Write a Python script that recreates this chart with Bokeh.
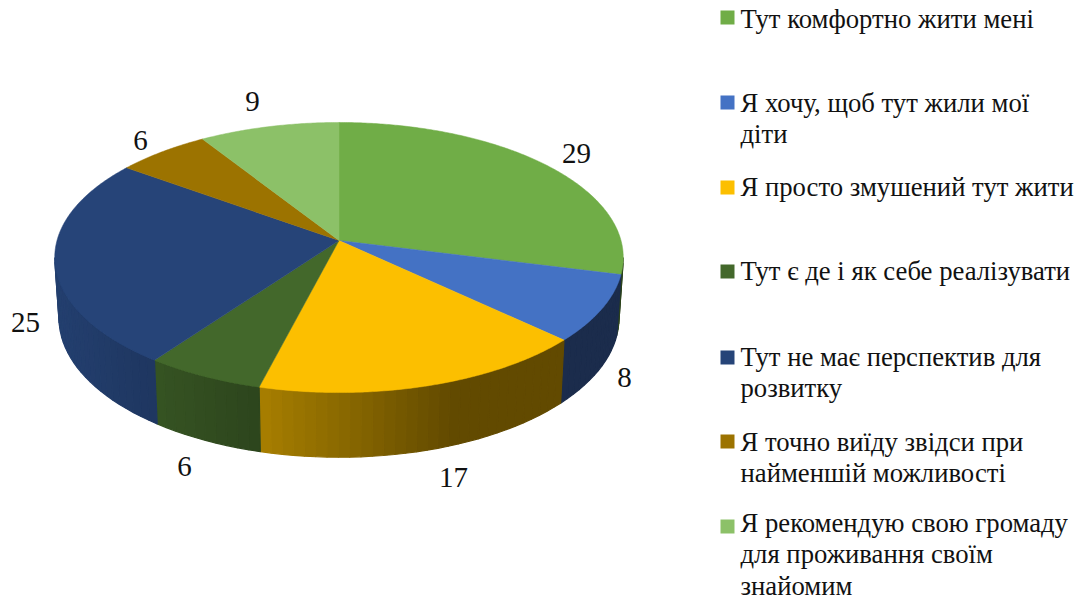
import numpy as np
from bokeh.plotting import figure
from bokeh.models import Range1d
from bokeh.core.properties import value
from bokeh.embed import file_html
from bokeh.resources import INLINE

categories = [
    ["Тут комфортно жити мені"],
    ["Я хочу, щоб тут жили мої", "діти"],
    ["Я просто змушений тут жити"],
    ["Тут є де і як себе реалізувати"],
    ["Тут не має перспектив для", "розвитку"],
    ["Я точно виїду звідси при", "найменшій можливості"],
    ["Я рекомендую свою громаду", "для проживання своїм", "знайомим"],
]
values = [29, 8, 17, 6, 25, 6, 9]
colors = ["#70ad47", "#4472c4", "#fcbf00", "#43682b", "#264478", "#9c7300", "#8cc168"]

# layout (page pixels)
FONT = value("Liberation Serif")
label_pos = [(576, 153), (624, 377), (453, 477), (184, 466), (25, 322), (140, 140), (252, 101)]
legend_top = [10, 95, 180, 264, 350, 434, 519]
legend_base = [18, 102, 186, 270, 356, 441, 522]
LINE = 31.5
CX, CY, K, A, B = 338.5, 240, 0.126, 132.9, 282
BOT_Y, BOT_A, BOT_S = 300, 137, 0.985


def project(theta_deg, bottom=False):
    t = np.radians(theta_deg)
    X, Y = np.sin(t), np.cos(t)
    den = 1 + K * Y
    if bottom:
        return CX + BOT_S * B * X / den, BOT_Y - BOT_A * Y / den
    return CX + B * X / den, CY - A * Y / den


def shade(hex_color, x):
    f = np.interp(x, [60, 156, 259, 450, 620], [0.92, 0.80, 0.665, 0.39, 0.39])
    rgb = [int(hex_color[i:i + 2], 16) for i in (1, 3, 5)]
    return "#%02x%02x%02x" % tuple(int(round(c * f)) for c in rgb)


p = figure(width=1079, height=600, output_backend="svg", toolbar_location=None,
           x_range=Range1d(0, 1079), y_range=Range1d(600, 0),
           min_border=0, outline_line_color=None, background_fill_color="white")
p.axis.visible = False
p.grid.visible = False

cum = np.cumsum([0] + values)
total = cum[-1]
start = cum[:-1] / total * 360
end = cum[1:] / total * 360
VIS0, VIS1 = 97.2, 262.8

# side wall, in narrow strips that carry the lighting
sx, sy, sc = [], [], []
for a0, a1, col in zip(start, end, colors):
    lo, hi = max(a0, VIS0), min(a1, VIS1)
    if hi <= lo:
        continue
    th = np.linspace(lo, hi, max(2, int((hi - lo) / 2.0) + 1))
    for t0, t1 in zip(th[:-1], th[1:]):
        x0, y0 = project(t0)
        x1, y1 = project(t1)
        x2, y2 = project(t1, True)
        x3, y3 = project(t0, True)
        sx.append([x0, x1, x2, x3])
        sy.append([y0, y1, y2, y3])
        sc.append(shade(col, (x0 + x1 + x2 + x3) / 4))
p.patches(sx, sy, fill_color=sc, line_color=sc, line_width=1.2)

# top face
tx, ty = [], []
for a0, a1 in zip(start, end):
    th = np.linspace(a0, a1, int(a1 - a0) * 2 + 2)
    x, y = project(th)
    tx.append([CX] + list(x))
    ty.append([CY] + list(y))
p.patches(tx, ty, fill_color=colors, line_color=colors, line_width=0.5)

# data labels
p.text([q[0] for q in label_pos], [q[1] for q in label_pos], text=[str(v) for v in values],
       text_font=FONT, text_font_size="29px", text_color="#111111",
       text_align="center", text_baseline="alphabetic")

# legend
sq = 14
for col, top, base, lines in zip(colors, legend_top, legend_base, categories):
    p.quad(left=720, right=720 + sq, top=top, bottom=top + sq, fill_color=col, line_color=None)
    p.text([740] * len(lines), [base + i * LINE for i in range(len(lines))], text=lines,
           text_font=FONT, text_font_size="26.7px", text_color="#111111",
           text_align="left", text_baseline="alphabetic")

open("out.html", "w").write(file_html(p, INLINE))
